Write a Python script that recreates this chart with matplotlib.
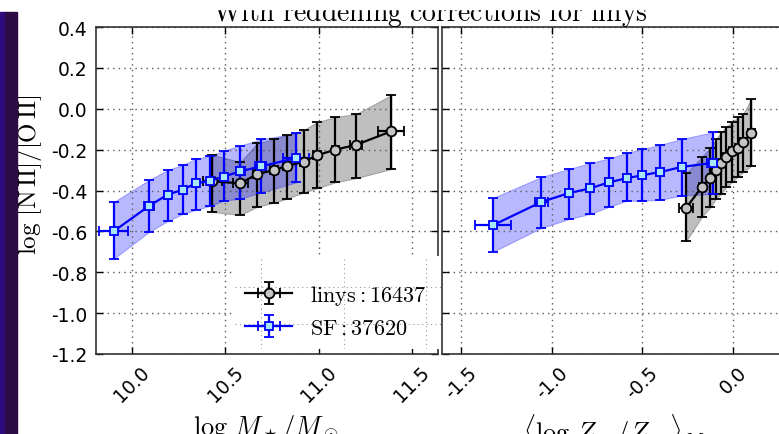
import matplotlib
matplotlib.use("Agg")
import matplotlib.pyplot as plt
from matplotlib.patches import Rectangle
import numpy as np

# stellar mass bins (left panel)
mass_sf = [9.90, 10.09, 10.19, 10.27, 10.34, 10.42, 10.49, 10.58, 10.69, 10.88]
mass_sf_xerr = [0.08, 0.025, 0.02, 0.02, 0.02, 0.02, 0.02, 0.025, 0.03, 0.07]
n2o2_sf_m = [-0.60, -0.476, -0.42, -0.397, -0.365, -0.352, -0.332, -0.306, -0.282, -0.241]
n2o2_sf_m_lo = [-0.735, -0.603, -0.55, -0.515, -0.495, -0.475, -0.45, -0.44, -0.41, -0.36]
n2o2_sf_m_hi = [-0.457, -0.349, -0.30, -0.275, -0.246, -0.23, -0.205, -0.18, -0.15, -0.12]

mass_li = [10.43, 10.58, 10.67, 10.76, 10.83, 10.92, 10.99, 11.09, 11.20, 11.39]
mass_li_xerr = [0.05, 0.04, 0.02, 0.02, 0.02, 0.02, 0.02, 0.02, 0.03, 0.07]
n2o2_li_m = [-0.355, -0.365, -0.32, -0.30, -0.28, -0.26, -0.228, -0.20, -0.177, -0.11]
n2o2_li_m_lo = [-0.505, -0.52, -0.48, -0.46, -0.44, -0.41, -0.39, -0.36, -0.34, -0.295]
n2o2_li_m_hi = [-0.226, -0.26, -0.17, -0.148, -0.128, -0.104, -0.066, -0.04, -0.026, 0.067]

# mean stellar metallicity per mass bin (right panel)
zst_sf = [-1.323, -1.056, -0.905, -0.79, -0.684, -0.587, -0.50, -0.404, -0.285, -0.113]
zst_sf_xerr = [0.10, 0.035, 0.02, 0.02, 0.02, 0.02, 0.02, 0.02, 0.02, 0.03]
n2o2_sf_z = [-0.57, -0.456, -0.413, -0.39, -0.36, -0.34, -0.325, -0.31, -0.285, -0.265]
n2o2_sf_z_lo = [-0.70, -0.583, -0.54, -0.515, -0.48, -0.45, -0.45, -0.446, -0.425, -0.417]
n2o2_sf_z_hi = [-0.437, -0.334, -0.295, -0.266, -0.243, -0.216, -0.197, -0.177, -0.148, -0.115]

zst_li = [-0.26, -0.172, -0.126, -0.095, -0.067, -0.04, -0.008, 0.025, 0.053, 0.10]
zst_li_xerr = [0.037, 0.015, 0.015, 0.015, 0.015, 0.015, 0.015, 0.015, 0.015, 0.02]
n2o2_li_z = [-0.486, -0.381, -0.339, -0.30, -0.267, -0.235, -0.205, -0.19, -0.164, -0.118]
n2o2_li_z_lo = [-0.648, -0.528, -0.482, -0.44, -0.417, -0.384, -0.36, -0.332, -0.311, -0.279]
n2o2_li_z_hi = [-0.316, -0.235, -0.19, -0.148, -0.115, -0.088, -0.066, -0.042, -0.026, 0.048]

yticks = [-1.2, -1.0, -0.8, -0.6, -0.4, -0.2, 0.0, 0.2, 0.4]
labels = [r'$\mathrm{linys:16437}$', r'$\mathrm{SF:37620}$']

plt.rcParams['mathtext.fontset'] = 'cm'
plt.rcParams['axes.unicode_minus'] = False
plt.rcParams['font.size'] = 13.5

W, H = 779, 435
fig = plt.figure(figsize=(W / 100, H / 100), dpi=100)


def box(x0, y0, x1, y1):
    # pixel box (from top-left) -> figure fraction rect
    return [x0 / W, 1 - y1 / H, (x1 - x0) / W, (y1 - y0) / H]


ax1 = fig.add_axes(box(96, 28, 438, 355))
ax2 = fig.add_axes(box(442, 28, 786, 355))


def series(ax, x, xe, y, lo, hi, fc, ec, mk, ms, band, alpha):
    y = np.array(y)
    lo = np.array(lo)
    hi = np.array(hi)
    ax.fill_between(x, lo, hi, color=band, alpha=alpha, lw=0.8)
    return ax.errorbar(x, y, xerr=xe, yerr=[y - lo, hi - y], color=ec, marker=mk,
                       ms=ms, mfc=fc, mec=ec, mew=1.3, lw=1.6, elinewidth=1.6,
                       capsize=3.5, capthick=1.6)


h_li = series(ax1, mass_li, mass_li_xerr, n2o2_li_m, n2o2_li_m_lo, n2o2_li_m_hi,
              '#c4c4c4', 'k', 'o', 7, 'k', 0.25)
h_sf = series(ax1, mass_sf, mass_sf_xerr, n2o2_sf_m, n2o2_sf_m_lo, n2o2_sf_m_hi,
              '#a8e8f4', 'b', 's', 6, 'b', 0.28)
series(ax2, zst_li, zst_li_xerr, n2o2_li_z, n2o2_li_z_lo, n2o2_li_z_hi,
       '#c4c4c4', 'k', 'o', 7, 'k', 0.25)
series(ax2, zst_sf, zst_sf_xerr, n2o2_sf_z, n2o2_sf_z_lo, n2o2_sf_z_hi,
       '#a8e8f4', 'b', 's', 6, 'b', 0.28)

ax1.set_xlim(9.806, 11.64)
ax1.set_xticks([10.0, 10.5, 11.0, 11.5])
ax2.set_xlim(-1.603, 0.29)
ax2.set_xticks([-1.5, -1.0, -0.5, 0.0])
for ax in (ax1, ax2):
    ax.set_ylim(-1.2, 0.4)
    ax.set_yticks(yticks)
    ax.set_yticklabels(['%.1f' % t for t in yticks])
    ax.set_xticklabels(['%.1f' % t for t in ax.get_xticks()])
    ax.grid(True, color='0.35', ls=(0, (1, 3)), lw=1.0)
    ax.tick_params(direction='in', length=5, width=1, top=True, right=True,
                   labelsize=13.5, pad=6)
    for lab in ax.get_xticklabels():
        lab.set_rotation(45)
        lab.set_ha('center')
        lab.set_va('top')
    for sp in ax.spines.values():
        sp.set_linewidth(1.2)
        sp.set_color('0.2')
ax2.tick_params(labelleft=False)

# labels
fig.text(30 / W, 1 - 175 / H, r'$\log\,[\mathrm{N\,II}]/[\mathrm{O\,II}]$',
         rotation=90, ha='center', va='center', fontsize=18)
fig.text(266 / W, 1 - 413 / H, r'$\log\,M_\star/M_\odot$',
         ha='center', va='top', fontsize=19)
fig.text(614 / W, 1 - 413 / H, r'$\langle\log\,Z_\star/Z_\odot\rangle_M$',
         ha='center', va='top', fontsize=19)
fig.text(430 / W, 1 - 21 / H, r'$\mathrm{With\ reddening\ corrections\ for\ linys}$',
         ha='center', va='baseline', fontsize=20)

# legend sits on its own little white axes
lax = fig.add_axes(box(235, 257, 441, 350), zorder=5)
lax.set_facecolor('white')
lax.set_xlim(0, 1)
lax.set_ylim(0, 1)
lax.set_xticks([0.124, 0.527, 0.928])
lax.set_yticks([0.269, 0.667])
lax.tick_params(length=0, labelbottom=False, labelleft=False)
lax.grid(True, color='0.6', ls=(0, (1, 3)), lw=0.8)
for sp in lax.spines.values():
    sp.set_visible(False)
lax.legend([h_li, h_sf], labels, loc='center left', bbox_to_anchor=(0.05, 0.414),
           frameon=False, fontsize=16, borderpad=0, borderaxespad=0,
           handlelength=2.1, handletextpad=0.8, labelspacing=0.5)

# clipped top and the dark strip at the left edge of the screenshot
fig.add_artist(Rectangle((0, 1 - 10 / H), 1, 10 / H, transform=fig.transFigure,
                         color='white', zorder=10))
fig.add_artist(Rectangle((0, 0), 5 / W, 1 - 13 / H, transform=fig.transFigure,
                         color='#2e0a7e', zorder=10))
fig.add_artist(Rectangle((5 / W, 0), 12 / W, 1 - 13 / H, transform=fig.transFigure,
                         color='#2d0b44', zorder=10))

fig.savefig("out.png", dpi=100)
